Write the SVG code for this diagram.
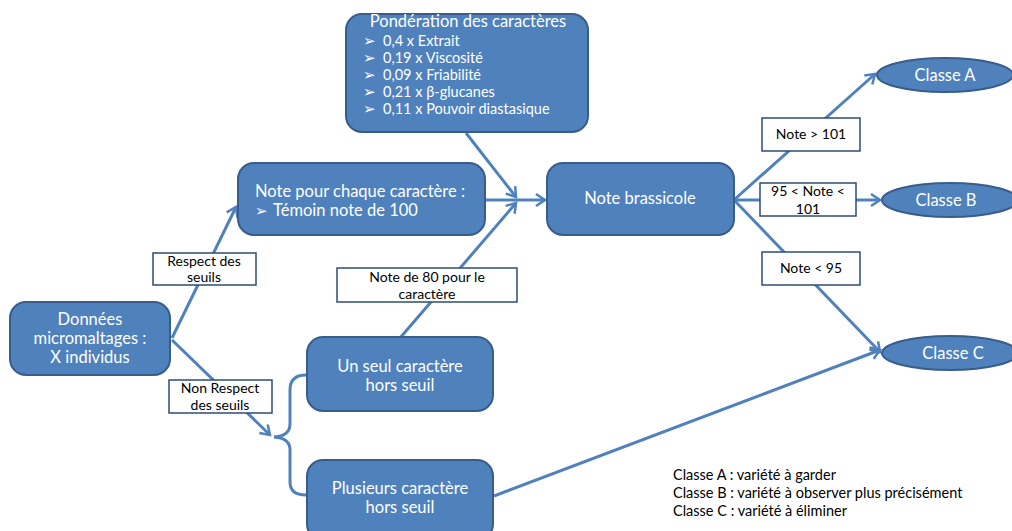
<svg xmlns="http://www.w3.org/2000/svg" width="1012" height="531" viewBox="0 0 1012 531">
<defs>
<marker id="arr" markerWidth="14" markerHeight="14" refX="10" refY="7" orient="auto" markerUnits="userSpaceOnUse">
<path d="M1,1 L10,7 L1,13" fill="none" stroke="#4F81BD" stroke-width="2.5"/>
</marker>
</defs>
<style>
.box{fill:#4F81BD;stroke:#385D8A;stroke-width:2}
.lbl{fill:#FFFFFF;stroke:#2C4D75;stroke-width:1.5}
.wt{fill:#FFFFFF;font-family:Lato,"Liberation Sans",sans-serif;font-size:16.5px}
.ws{fill:#FFFFFF;font-family:Lato,"Liberation Sans",sans-serif;font-size:14.5px}
.bk{fill:#000000;font-family:Lato,"Liberation Sans",sans-serif;font-size:14px}
.lg{fill:#000000;font-family:Lato,"Liberation Sans",sans-serif;font-size:14.5px}
.bul{font-family:"DejaVu Sans",sans-serif;font-size:15px}
.con{fill:none;stroke:#4F81BD;stroke-width:3}
</style>
<rect width="1012" height="531" fill="#FFFFFF"/>
<g id="connectors">
<line class="con" x1="172" y1="338" x2="236" y2="207" marker-end="url(#arr)"/>
<line class="con" x1="172" y1="340" x2="270" y2="435" marker-end="url(#arr)"/>
<path class="con" d="M306,375 Q290,375 290,390 L290,424 Q290,436 274,437 Q290,438 290,450 L290,482 Q290,495 306,495"/>
<line class="con" x1="466" y1="133" x2="516" y2="197" marker-end="url(#arr)"/>
<line class="con" x1="400" y1="338" x2="516" y2="203" marker-end="url(#arr)"/>
<line class="con" x1="486" y1="200" x2="545" y2="200" marker-end="url(#arr)"/>
<line class="con" x1="735" y1="199" x2="875" y2="74" marker-end="url(#arr)"/>
<line class="con" x1="735" y1="200" x2="880" y2="200" marker-end="url(#arr)"/>
<line class="con" x1="735" y1="201" x2="880" y2="352" marker-end="url(#arr)"/>
<line class="con" x1="494" y1="496" x2="880" y2="350" marker-end="url(#arr)"/>
</g>
<g id="ponderation">
<rect class="box" x="346" y="14" width="242" height="118" rx="16"/>
<text class="wt" x="468" y="27" text-anchor="middle">Pondération des caractères</text>
<g class="ws">
<text x="363" y="46"><tspan class="bul">➢</tspan></text><text x="383" y="46">0,4 x Extrait</text>
<text x="363" y="63"><tspan class="bul">➢</tspan></text><text x="383" y="63">0,19 x Viscosité</text>
<text x="363" y="80"><tspan class="bul">➢</tspan></text><text x="383" y="80">0,09 x Friabilité</text>
<text x="363" y="97"><tspan class="bul">➢</tspan></text><text x="383" y="97">0,21 x β-glucanes</text>
<text x="363" y="114"><tspan class="bul">➢</tspan></text><text x="383" y="114">0,11 x Pouvoir diastasique</text>
</g>
</g>
<g id="note-chaque">
<rect class="box" x="238" y="163" width="247" height="72" rx="16"/>
<text class="wt" x="255" y="197">Note pour chaque caractère :</text>
<text class="wt" x="255" y="216"><tspan class="bul">➢</tspan></text>
<text class="wt" x="273" y="216">Témoin note de 100</text>
</g>
<g id="note-brassicole">
<rect class="box" x="547" y="163" width="187" height="72" rx="16"/>
<text class="wt" x="640" y="204" text-anchor="middle">Note brassicole</text>
</g>
<g id="donnees">
<rect class="box" x="10" y="302" width="160" height="73" rx="16"/>
<text class="wt" x="90" y="325" text-anchor="middle">Données</text>
<text class="wt" x="90" y="344" text-anchor="middle">micromaltages :</text>
<text class="wt" x="90" y="363" text-anchor="middle">X individus</text>
</g>
<g id="un-seul">
<rect class="box" x="307" y="337" width="186" height="74" rx="16"/>
<text class="wt" x="400" y="372" text-anchor="middle">Un seul caractère</text>
<text class="wt" x="400" y="391" text-anchor="middle">hors seuil</text>
</g>
<g id="plusieurs">
<rect class="box" x="307" y="460" width="186" height="80" rx="16"/>
<text class="wt" x="400" y="494" text-anchor="middle">Plusieurs caractère</text>
<text class="wt" x="400" y="513" text-anchor="middle">hors seuil</text>
</g>
<g id="classe-a">
<ellipse class="box" cx="945" cy="75" rx="68" ry="17"/>
<text class="wt" x="945" y="81" text-anchor="middle">Classe A</text>
</g>
<g id="classe-b">
<ellipse class="box" cx="950" cy="200" rx="68" ry="17"/>
<text class="wt" x="946" y="206" text-anchor="middle">Classe B</text>
</g>
<g id="classe-c">
<ellipse class="box" cx="950" cy="353" rx="68" ry="17"/>
<text class="wt" x="953" y="359" text-anchor="middle">Classe C</text>
</g>
<g id="labels">
<rect class="lbl" x="153" y="253" width="103" height="32"/>
<text class="bk" x="204" y="266" text-anchor="middle">Respect des</text>
<text class="bk" x="204" y="282" text-anchor="middle">seuils</text>
<rect class="lbl" x="169" y="380" width="103" height="33"/>
<text class="bk" x="220" y="393" text-anchor="middle">Non Respect</text>
<text class="bk" x="220" y="410" text-anchor="middle">des seuils</text>
<rect class="lbl" x="337" y="268" width="180" height="34"/>
<text class="bk" x="427" y="282" text-anchor="middle">Note de 80 pour le</text>
<text class="bk" x="427" y="299" text-anchor="middle">caractère</text>
<rect class="lbl" x="762" y="118" width="98" height="33"/>
<text class="bk" x="811" y="139" text-anchor="middle">Note &gt; 101</text>
<rect class="lbl" x="760" y="183" width="96" height="33"/>
<text class="bk" x="808" y="196" text-anchor="middle">95 &lt; Note &lt;</text>
<text class="bk" x="808" y="214" text-anchor="middle">101</text>
<rect class="lbl" x="762" y="252" width="98" height="33"/>
<text class="bk" x="811" y="273" text-anchor="middle">Note &lt; 95</text>
</g>
<g id="legend">
<text class="lg" x="673" y="480">Classe A : variété à garder</text>
<text class="lg" x="673" y="498">Classe B : variété à observer plus précisément</text>
<text class="lg" x="673" y="516">Classe C : variété à éliminer</text>
</g>
</svg>
